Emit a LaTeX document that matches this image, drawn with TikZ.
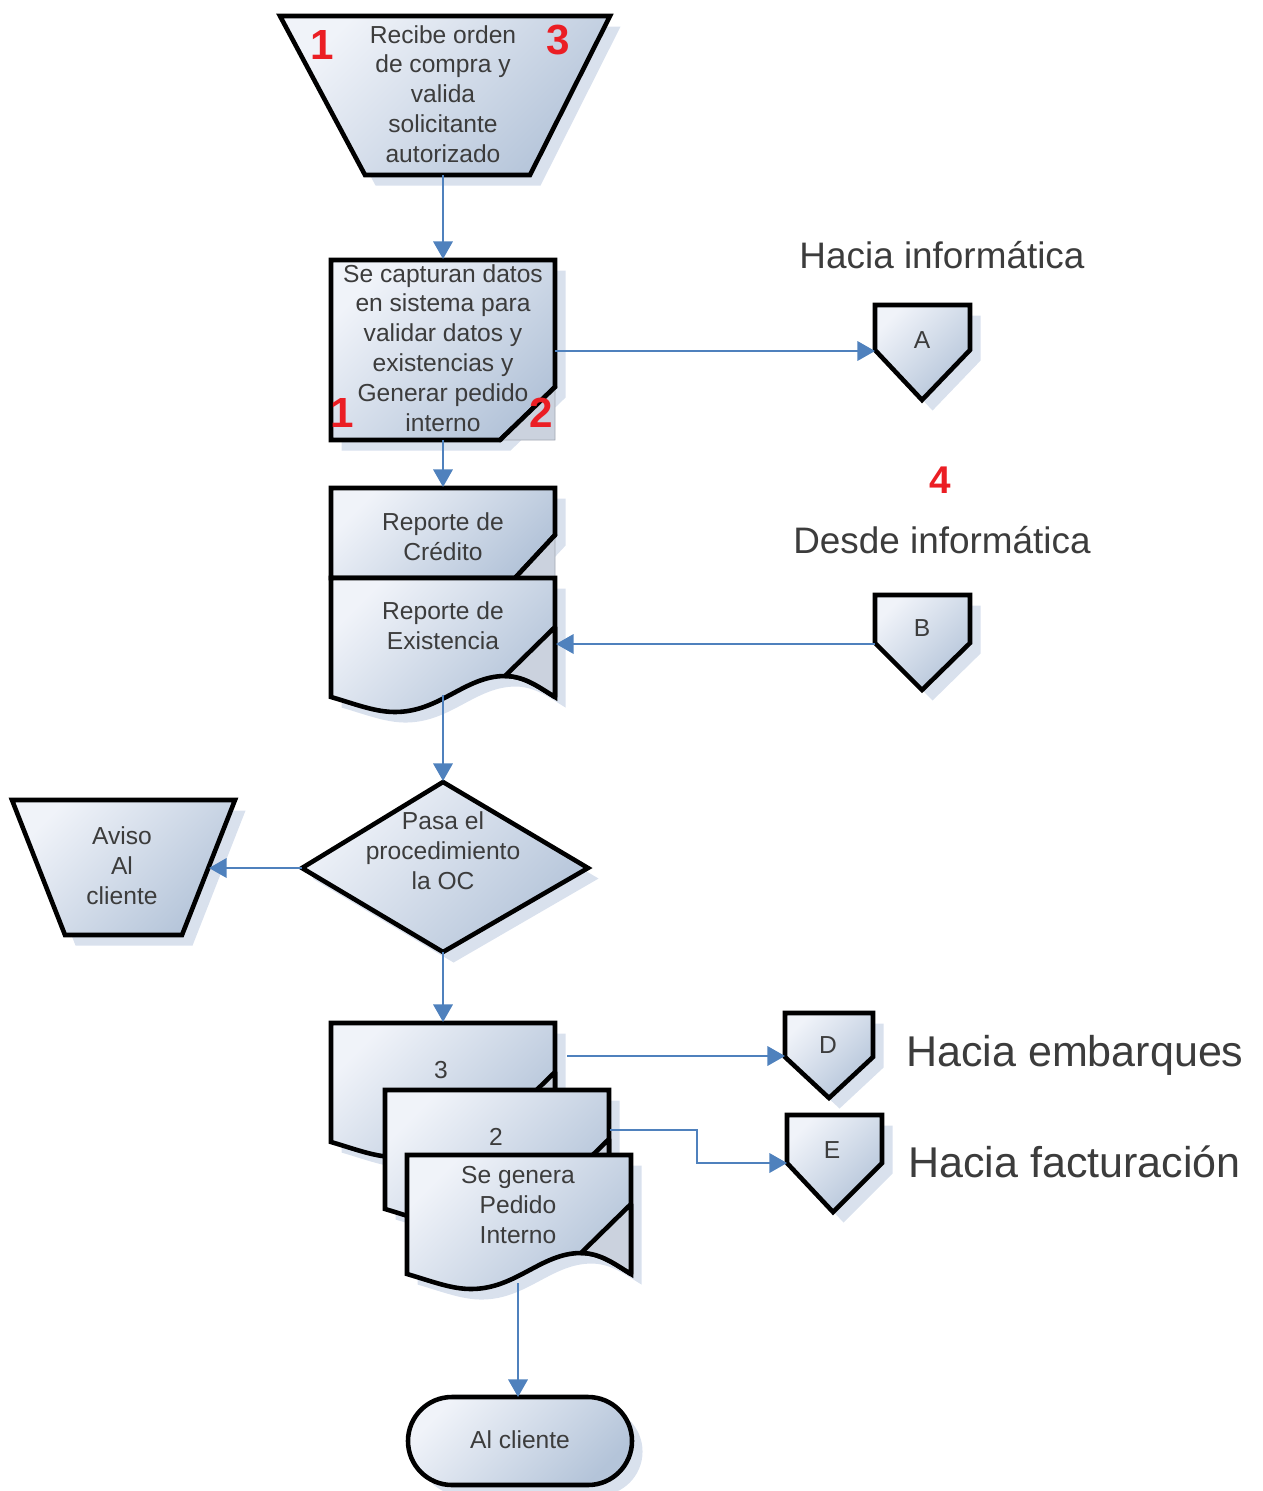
\documentclass[tikz,border=0pt]{standalone}
\usepackage{fontspec}
\setmainfont{Liberation Sans}
\usetikzlibrary{arrows.meta,shadows}

\definecolor{boxlight}{RGB}{240,243,249}
\definecolor{boxdark}{RGB}{180,196,217}
\definecolor{foldgray}{RGB}{203,210,222}
\definecolor{shadowblue}{RGB}{208,217,233}
\definecolor{flowblue}{RGB}{79,129,189}
\definecolor{textgray}{RGB}{60,60,60}
\definecolor{markred}{RGB}{235,30,36}

% document with a page curl, top-left corner at (#1,#2)
\newcommand{\flowdoc}[2]{%
  \begin{scope}[shift={(#1,#2)}]
    \draw[chart] (0,0) -- (224,0) -- (224,119) .. controls (209,110) and (194,98) .. (174,98)
      .. controls (134,98) and (109,134) .. (64,134) .. controls (44,134) and (24,126) .. (0,119) -- cycle;
    \draw[fold] (174,98) -- (224,49) -- (224,119) .. controls (209,110) and (194,98) .. (174,98) -- cycle;
  \end{scope}}

\begin{document}
\begin{tikzpicture}[x=0.02cm, y=-0.02cm,
    chart/.style={draw=black, line width=2.6pt, line join=miter, top color=boxlight, bottom color=boxdark,
      shading angle=45, drop shadow={shadow xshift=6pt, shadow yshift=-6pt, fill=shadowblue, opacity=.8}},
    fold/.style={draw=black, line width=2.6pt, line join=round, fill=foldgray},
    corner/.style={fill=foldgray, draw=foldgray!80!black, line width=.4pt},
    cut/.style={draw=black, line width=2.6pt, line cap=round},
    flow/.style={draw=flowblue, line width=1.4pt, -{Triangle[width=11pt,length=10pt]}},
    body/.style={align=center, text=textgray, font=\fontsize{14}{17}\selectfont},
    redmark/.style={text=markred, font=\fontsize{24}{24}\selectfont\bfseries},
    side/.style={text=textgray, font=\fontsize{21}{24}\selectfont},
    bigside/.style={text=textgray, anchor=west, font=\fontsize{24.5}{26}\selectfont}]
    \useasboundingbox (0,0) rectangle (1262,1491);

    % shapes
    \draw[chart] (280,16) -- (610,16) -- (530,175) -- (365,175) -- cycle;
    \draw[chart] (331,260) -- (555,260) -- (555,387) -- (500,440) -- (331,440) -- cycle;
    \draw[corner] (500,440) -- (555,387) -- (555,440) -- cycle;
    \draw[cut] (500,440) -- (555,387);
    \draw[chart] (331,488) -- (555,488) -- (555,535) -- (515,578) -- (331,578) -- cycle;
    \draw[corner] (515,578) -- (555,535) -- (555,578) -- cycle;
    \draw[cut] (515,578) -- (555,535);
    \flowdoc{331}{578}
    \draw[chart] (443,782) -- (588,868) -- (443,952) -- (302,868) -- cycle;
    \draw[chart] (12,800) -- (235,800) -- (182,935) -- (65,935) -- cycle;
    \draw[chart] (875,305) -- (970,305) -- (970,350) -- (922,400) -- (875,350) -- cycle;
    \draw[chart] (875,595) -- (970,595) -- (970,643) -- (922,690) -- (875,643) -- cycle;
    \draw[chart] (785,1013) -- (873,1013) -- (873,1057) -- (829,1098) -- (785,1057) -- cycle;
    \draw[chart] (787,1115) -- (882,1115) -- (882,1163) -- (833,1212) -- (787,1163) -- cycle;
    \flowdoc{331}{1023}
    \flowdoc{385}{1090}
    \flowdoc{407}{1155}
    \draw[chart, rounded corners=0.88cm] (408,1397) rectangle (632,1485);

    % texts
    \node[body] (recibe) at (443,94) {Recibe orden\\de compra y\\valida\\solicitante\\autorizado};
    \node[body] (captura) at (443,348) {Se capturan datos\\en sistema para\\validar datos y\\existencias y\\Generar pedido\\interno};
    \node[body] (credito) at (443,537) {Reporte de\\Crédito};
    \node[body] (existencia) at (443,626) {Reporte de\\Existencia};
    \node[body] (pasa) at (443,851) {Pasa el\\procedimiento\\la OC};
    \node[body] (aviso) at (122,866) {Aviso\\Al\\cliente};
    \node[body] (conA) at (922,340) {A};
    \node[body] (conB) at (922,628) {B};
    \node[body] (conD) at (828,1045) {D};
    \node[body] (conE) at (832,1150) {E};
    \node[body] (tres) at (441,1070) {3};
    \node[body] (dos) at (496,1137) {2};
    \node[body] (pedido) at (518,1205) {Se genera\\Pedido\\Interno};
    \node[body] (alcliente) at (520,1440) {Al cliente};

    \node[side] (haciainf) at (942,255) {Hacia informática};
    \node[side] (desdeinf) at (942,540) {Desde informática};
    \node[bigside] (embarques) at (900,1055) {Hacia embarques};
    \node[bigside] (facturacion) at (902,1162) {Hacia facturación};

    \node[redmark] (uno) at (322,45) {1};
    \node[redmark] (tresrojo) at (558,40) {3};
    \node[redmark] (unob) at (342,413) {1};
    \node[redmark] (dosrojo) at (541,413) {2};
    \node[redmark, font=\fontsize{22}{22}\selectfont\bfseries] (cuatro) at (940,480) {4};

    % connector ends
    \coordinate (recibe-s) at (443,175);
    \coordinate (captura-n) at (443,259);
    \coordinate (captura-e) at (555,351);
    \coordinate (conA-w) at (875,351);
    \coordinate (captura-s) at (443,440);
    \coordinate (credito-n) at (443,487);
    \coordinate (conB-w) at (875,644);
    \coordinate (existencia-e) at (556,644);
    \coordinate (existencia-s) at (443,695);
    \coordinate (pasa-n) at (443,781);
    \coordinate (pasa-w) at (302,868);
    \coordinate (aviso-e) at (209,868);
    \coordinate (pasa-s) at (443,952);
    \coordinate (tres-n) at (443,1022);
    \coordinate (tres-e) at (567,1056);
    \coordinate (conD-w) at (785,1056);
    \coordinate (dos-e) at (610,1130);
    \coordinate (codo) at (697,1130);
    \coordinate (conE-w) at (787,1163);
    \coordinate (pedido-s) at (518,1283);
    \coordinate (alcliente-n) at (518,1397);

    % connectors
    \draw[flow] (recibe-s) -- (captura-n);
    \draw[flow] (captura-e) -- (conA-w);
    \draw[flow] (captura-s) -- (credito-n);
    \draw[flow] (conB-w) -- (existencia-e);
    \draw[flow] (existencia-s) -- (pasa-n);
    \draw[flow] (pasa-w) -- (aviso-e);
    \draw[flow] (pasa-s) -- (tres-n);
    \draw[flow] (tres-e) -- (conD-w);
    \draw[flow] (dos-e) -- (codo) |- (conE-w);
    \draw[flow] (pedido-s) -- (alcliente-n);
\end{tikzpicture}
\end{document}
